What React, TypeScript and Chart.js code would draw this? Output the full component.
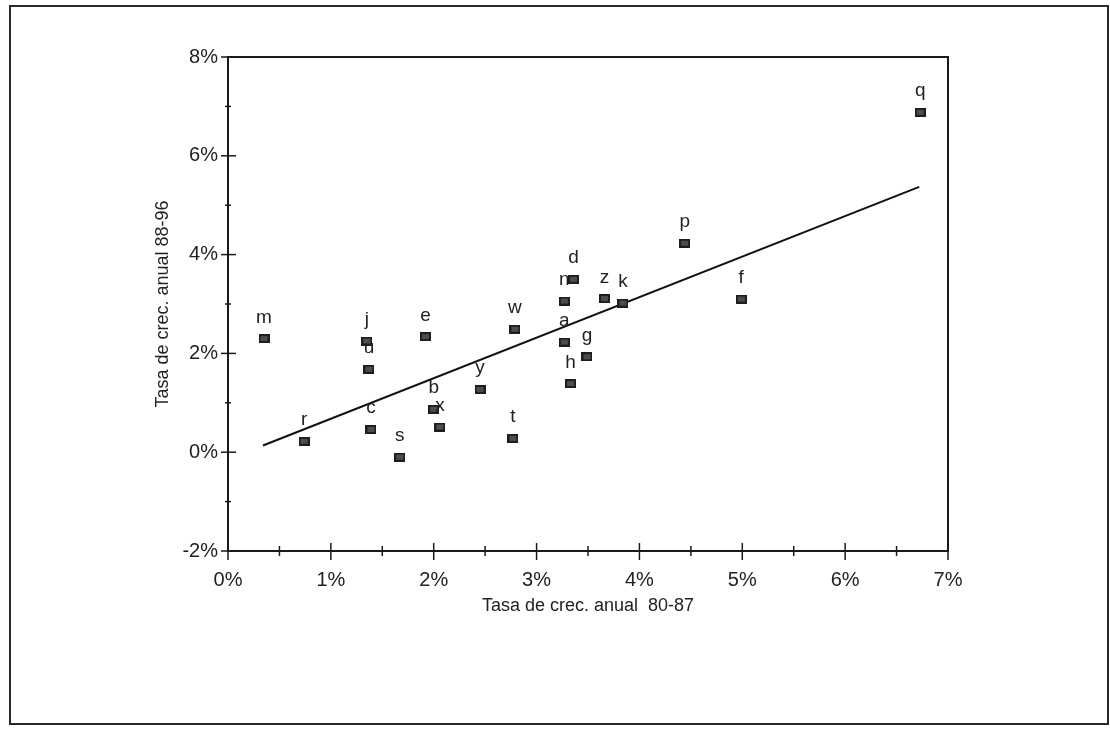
import React, { useEffect, useRef } from 'react';
import { Chart, registerables } from 'chart.js';

Chart.register(...registerables);

// Country / region labels for each point
const pointLabels = ['a', 'b', 'c', 'd', 'e', 'f', 'g', 'h', 'j', 'k', 'm', 'n', 'p', 'q', 'r', 's', 't', 'u', 'w', 'x', 'y', 'z'];
// Tasa de crec. anual 80-87 (%)
const growth8087 = [3.27, 2.0, 1.39, 3.36, 1.92, 4.99, 3.49, 3.33, 1.35, 3.84, 0.35, 3.27, 4.44, 6.73, 0.74, 1.67, 2.77, 1.37, 2.79, 2.06, 2.45, 3.66];
// Tasa de crec. anual 88-96 (%)
const growth8896 = [2.23, 0.87, 0.46, 3.5, 2.34, 3.1, 1.93, 1.39, 2.25, 3.02, 2.3, 3.06, 4.23, 6.88, 0.22, -0.1, 0.28, 1.68, 2.49, 0.51, 1.27, 3.11];
// Trend line end points
const trendX = [0.34, 6.72];
const trendY = [0.135, 5.37];

const xAxisTitle = 'Tasa de crec. anual  80-87';
const yAxisTitle = 'Tasa de crec. anual 88-96';
const xMin = 0, xMax = 7, xStep = 1, xMinorStep = 0.5;
const yMin = -2, yMax = 8, yStep = 2, yMinorStep = 1;

const FONT = '"Liberation Sans", Arial, sans-serif';

function makeMarker(): HTMLCanvasElement {
  const c = document.createElement('canvas');
  c.width = 11;
  c.height = 9;
  const g = c.getContext('2d')!;
  g.fillStyle = '#4d4d4d';
  g.fillRect(0, 0, 11, 9);
  g.strokeStyle = '#1e1e1e';
  g.lineWidth = 2;
  g.strokeRect(1, 1, 9, 7);
  return c;
}

const decorPlugin = {
  id: 'decor',
  afterDraw(chart: any) {
    const { ctx, chartArea: a, scales } = chart;
    const xs = scales.x, ys = scales.y;
    ctx.save();
    // outer frame
    ctx.strokeStyle = '#2a2a2a';
    ctx.lineWidth = 2;
    ctx.strokeRect(10, 6, 1098, 718);
    // plot box
    ctx.strokeStyle = '#1a1a1a';
    ctx.lineWidth = 2;
    ctx.strokeRect(a.left, a.top, a.right - a.left, a.bottom - a.top);
    // x ticks (cross style)
    ctx.lineWidth = 1.5;
    for (let v = xMin; v <= xMax + 1e-9; v += xMinorStep) {
      const px = xs.getPixelForValue(v);
      const major = Math.abs(v - Math.round(v)) < 1e-9;
      const up = major ? 8 : 5, down = major ? 9 : 5;
      ctx.beginPath();
      ctx.moveTo(px, a.bottom - up);
      ctx.lineTo(px, a.bottom + down);
      ctx.stroke();
    }
    // y ticks
    for (let v = yMin; v <= yMax + 1e-9; v += yMinorStep) {
      const py = ys.getPixelForValue(v);
      const major = Math.abs(v / yStep - Math.round(v / yStep)) < 1e-9;
      const left = major ? 7 : 3, right = major ? 8 : 3;
      ctx.beginPath();
      ctx.moveTo(a.left - left, py);
      ctx.lineTo(a.left + right, py);
      ctx.stroke();
    }
    // point labels
    const meta = chart.getDatasetMeta(0);
    ctx.font = '19px ' + FONT;
    ctx.textAlign = 'center';
    ctx.textBaseline = 'alphabetic';
    ctx.fillStyle = '#222';
    meta.data.forEach((el: any, i: number) => {
      ctx.fillText(pointLabels[i], el.x, el.y - 16);
    });
    ctx.restore();
  },
};

export default function App() {
  const ref = useRef<HTMLCanvasElement | null>(null);

  useEffect(() => {
    if (!ref.current) return;
    const marker = makeMarker();
    const points = growth8087.map((x, i) => ({ x, y: growth8896[i] }));
    const trend = trendX.map((x, i) => ({ x, y: trendY[i] }));
    const chart = new Chart(ref.current, {
      type: 'scatter',
      data: {
        datasets: [
          {
            data: points,
            pointStyle: marker as any,
            pointRadius: 6,
            pointHoverRadius: 6,
            backgroundColor: '#4d4d4d',
            borderColor: '#1e1e1e',
            borderWidth: 1,
            showLine: false,
          },
          {
            data: trend,
            showLine: true,
            pointRadius: 0,
            borderColor: '#111',
            borderWidth: 2,
            fill: false,
          },
        ],
      },
      options: {
        responsive: false,
        animation: false,
        devicePixelRatio: 1,
        events: [],
        layout: { padding: { left: 148, top: 57, right: 162, bottom: 108 } },
        plugins: { legend: { display: false }, tooltip: { enabled: false }, title: { display: false } },
        scales: {
          x: {
            type: 'linear',
            min: xMin,
            max: xMax,
            grid: { display: false, drawTicks: false },
            border: { display: false },
            ticks: {
              stepSize: xStep,
              padding: 17,
              color: '#222',
              font: { family: FONT, size: 20 },
              callback: (v: any) => `${v}%`,
            },
            title: { display: true, text: xAxisTitle, color: '#222', font: { family: FONT, size: 18 }, padding: { top: 4, bottom: 4 } },
            afterFit: (s: any) => { s.height = 70; },
          },
          y: {
            type: 'linear',
            min: yMin,
            max: yMax,
            grid: { display: false, drawTicks: false },
            border: { display: false },
            ticks: {
              stepSize: yStep,
              padding: 10,
              color: '#222',
              font: { family: FONT, size: 20 },
              callback: (v: any) => `${v}%`,
            },
            title: { display: true, text: yAxisTitle, color: '#222', font: { family: FONT, size: 18 }, padding: { top: 4, bottom: 4 } },
            afterFit: (s: any) => { s.width = 80; },
          },
        },
      },
      plugins: [decorPlugin],
    });
    return () => chart.destroy();
  }, []);

  return (
    <div style={{ position: 'fixed', left: 0, top: 0, width: 1110, height: 729, background: '#fff' }}>
      <canvas ref={ref} width={1110} height={729} style={{ width: 1110, height: 729, display: 'block' }} />
    </div>
  );
}
